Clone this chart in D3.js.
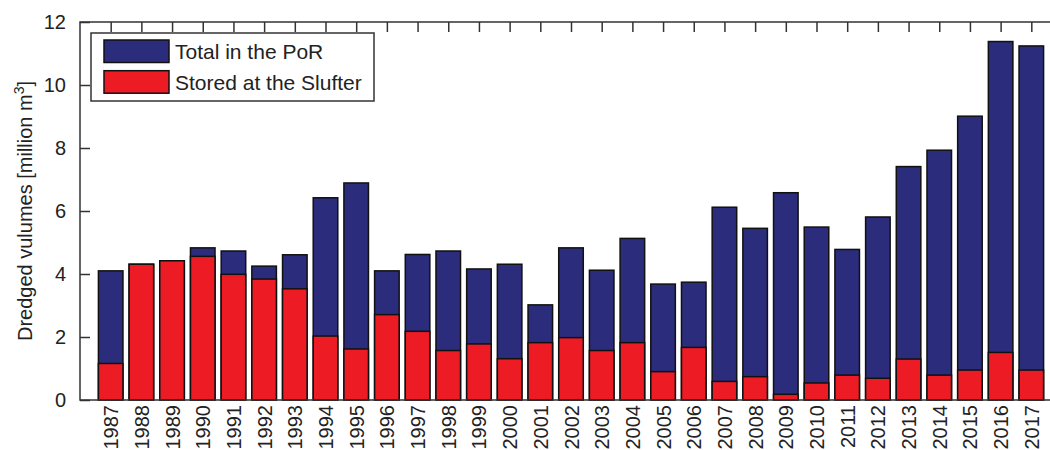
<!DOCTYPE html>
<html><head><meta charset="utf-8">
<script src="https://cdn.jsdelivr.net/npm/d3@7"></script>
<style>body{margin:0;background:#fff}svg{display:block;font-family:"Liberation Sans",Arial,sans-serif}</style>
</head><body>
<svg id="c" width="1050" height="450"></svg>
<script>
const years = [1987,1988,1989,1990,1991,1992,1993,1994,1995,1996,1997,1998,1999,2000,2001,2002,2003,2004,2005,2006,2007,2008,2009,2010,2011,2012,2013,2014,2015,2016,2017];
const totalPoR = [4.10,4.31,4.42,4.83,4.73,4.25,4.61,6.42,6.89,4.10,4.62,4.73,4.16,4.31,3.02,4.83,4.12,5.13,3.68,3.74,6.12,5.45,6.58,5.49,4.78,5.81,7.41,7.93,9.01,11.38,11.24];
const slufter = [1.16,4.31,4.42,4.56,3.99,3.84,3.53,2.03,1.62,2.71,2.18,1.57,1.78,1.31,1.82,1.98,1.57,1.82,0.90,1.67,0.59,0.74,0.18,0.54,0.79,0.69,1.30,0.79,0.95,1.51,0.95];
const yTicks = [0,2,4,6,8,10,12];
const seriesNames = ["Total in the PoR","Stored at the Slufter"];
const colors = ["#2B2C7C","#ED1C24"];

const svg = d3.select("#c");
const L = 80, R = 1062, T = 22, B = 400;
const x = d3.scaleLinear().domain([1986, 2018]).range([L, R]);
const y = d3.scaleLinear().domain([0, 12]).range([B, T]);
const step = x(1988) - x(1987);
const bw = step * 0.8;
const textCol = "#222";
const axCol = "#333";

// bars
const g = svg.append("g");
g.selectAll("rect.tot").data(years).join("rect")
  .attr("x", (d) => x(d) - bw/2).attr("width", bw)
  .attr("y", (d,i) => y(totalPoR[i])).attr("height", (d,i) => y(0) - y(totalPoR[i]))
  .attr("fill", colors[0]).attr("stroke", "#111").attr("stroke-width", 1.5);
g.selectAll("rect.sl").data(years).join("rect")
  .attr("x", (d) => x(d) - bw/2).attr("width", bw)
  .attr("y", (d,i) => y(slufter[i])).attr("height", (d,i) => y(0) - y(slufter[i]))
  .attr("fill", colors[1]).attr("stroke", "#111").attr("stroke-width", 1.5);

// axes
const yAx = svg.append("g").attr("transform", `translate(${L},0)`)
  .call(d3.axisLeft(y).tickValues(yTicks).tickSize(-10).tickPadding(14).tickFormat(d3.format("d")));
yAx.select(".domain").remove();
yAx.selectAll("line").attr("stroke", axCol).attr("stroke-width", 1.5);
yAx.selectAll("text").attr("font-size", 20).attr("fill", textCol).attr("font-family", "Liberation Sans, Arial");

const xTop = svg.append("g").attr("transform", `translate(0,${T})`)
  .call(d3.axisTop(x).tickValues(years).tickSize(-10).tickFormat(""));
xTop.select(".domain").remove();
xTop.selectAll("line").attr("stroke", axCol).attr("stroke-width", 1.5);

const xBot = svg.append("g").attr("transform", `translate(0,${B})`)
  .call(d3.axisBottom(x).tickValues(years).tickSize(0).tickPadding(0).tickFormat(d3.format("d")));
xBot.select(".domain").remove();
xBot.selectAll("text")
  .attr("font-size", 20).attr("fill", textCol).attr("font-family", "Liberation Sans, Arial")
  .attr("text-anchor", "end").attr("dy", "0.35em")
  .attr("transform", "translate(0,5) rotate(-90)").attr("x", 0).attr("y", 0);

// frame
svg.append("rect").attr("x", L).attr("y", T).attr("width", R - L).attr("height", B - T)
  .attr("fill", "none").attr("stroke", axCol).attr("stroke-width", 1.5);

// y label
const yl = svg.append("text").attr("transform", `translate(32,${(T+B)/2}) rotate(-90)`)
  .attr("text-anchor", "middle").attr("font-size", 20).attr("fill", textCol);
yl.append("tspan").text("Dredged vulumes [million m");
yl.append("tspan").attr("font-size", 14).attr("dy", -8).text("3");
yl.append("tspan").attr("dy", 8).text("]");

// legend
const lg = svg.append("g");
lg.append("rect").attr("x", 91).attr("y", 33).attr("width", 283).attr("height", 68)
  .attr("fill", "#fff").attr("stroke", axCol).attr("stroke-width", 1.5);
seriesNames.forEach((n, i) => {
  const yy = 40 + i * 30.7;
  lg.append("rect").attr("x", 104).attr("y", yy).attr("width", 65).attr("height", 22.5)
    .attr("fill", colors[i]).attr("stroke", "#111").attr("stroke-width", 1.5);
  lg.append("text").attr("x", 175).attr("y", yy + 11.5).attr("dy", "0.35em")
    .attr("font-size", 21).attr("fill", textCol).text(n);
});
</script>
</body></html>
